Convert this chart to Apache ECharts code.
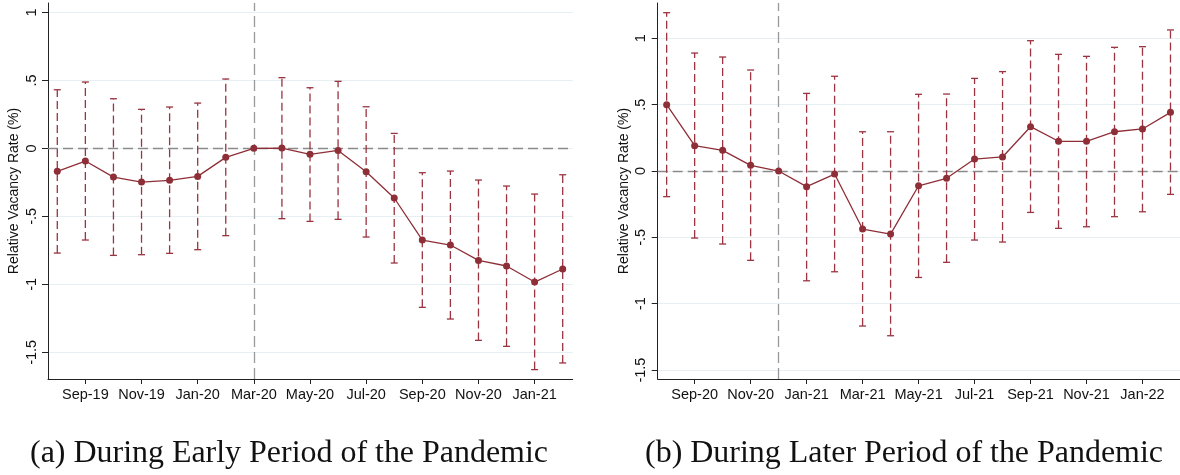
<!DOCTYPE html>
<html><head><meta charset="utf-8">
<script src="https://cdn.jsdelivr.net/npm/echarts@6/dist/echarts.min.js"></script>
<style>html,body{margin:0;padding:0;background:#fff}#c{width:1180px;height:475px}</style>
</head><body><div id="c"></div>
<script>
// Panel (a): During Early Period of the Pandemic
const monthsA = ["Aug-19","Sep-19","Oct-19","Nov-19","Dec-19","Jan-20","Feb-20","Mar-20","Apr-20","May-20","Jun-20","Jul-20","Aug-20","Sep-20","Oct-20","Nov-20","Dec-20","Jan-21","Feb-21"];
const estA  = [-0.169,-0.093,-0.211,-0.248,-0.235,-0.206,-0.066,0.000,0.002,-0.044,-0.015,-0.172,-0.365,-0.674,-0.711,-0.824,-0.865,-0.983,-0.887];
const lowA  = [-0.770,-0.674,-0.787,-0.782,-0.772,-0.745,-0.642,null,-0.517,-0.537,-0.522,-0.652,-0.843,-1.169,-1.255,-1.412,-1.456,-1.627,-1.578];
const highA = [0.431,0.488,0.365,0.287,0.304,0.333,0.510,null,0.520,0.446,0.493,0.306,0.110,-0.179,-0.167,-0.233,-0.277,-0.336,-0.194];
const eventA = "Mar-20";

// Panel (b): During Later Period of the Pandemic
const monthsB = ["Aug-20","Sep-20","Oct-20","Nov-20","Dec-20","Jan-21","Feb-21","Mar-21","Apr-21","May-21","Jun-21","Jul-21","Aug-21","Sep-21","Oct-21","Nov-21","Dec-21","Jan-22","Feb-22"];
const estB  = [0.500,0.191,0.156,0.043,0.000,-0.118,-0.023,-0.437,-0.475,-0.111,-0.055,0.090,0.106,0.334,0.224,0.224,0.296,0.317,0.442];
const lowB  = [-0.193,-0.505,-0.550,-0.673,null,-0.827,-0.759,-1.168,-1.241,-0.802,-0.688,-0.520,-0.535,-0.312,-0.432,-0.420,-0.344,-0.307,-0.176];
const highB = [1.193,0.889,0.859,0.761,null,0.585,0.714,0.296,0.296,0.578,0.580,0.698,0.749,0.982,0.879,0.864,0.932,0.937,1.063];
const eventB = "Dec-20";

const xTickIdx = [1,3,5,7,9,11,13,15,17];
const yTicks = [-1.5,-1,-0.5,0,0.5,1];
const yTitle = "Relative Vacancy Rate (%)";
const captionA = "(a) During Early Period of the Pandemic";
const captionB = "(b) During Later Period of the Pandemic";

const LINE = '#8e2f38', BAR = '#9a3440', GRID = '#e6eff1', REF = '#8a8a8a', AX = '#222';
const sans = '"Liberation Sans", Arial, Helvetica, sans-serif';
const serif = '"Liberation Serif", "DejaVu Serif", serif';

function yLab(v){
  if (Math.abs(v) < 1e-9) return '0';
  const s = String(Math.abs(v)).replace(/^0/, '');
  return (v < 0 ? '-' : '') + s;
}

function xAxisFor(gi, months, min, max){
  return {
    type:'value', gridIndex: gi, min: min, max: max,
    axisLine:{show:true, onZero:false, lineStyle:{color:AX, width:1}},
    axisTick:{show:true, length:5, customValues: xTickIdx, lineStyle:{color:AX}},
    axisLabel:{show:true, customValues: xTickIdx, margin:8, fontFamily:sans, fontSize:14.5, color:'#111',
      formatter: v => months[Math.round(v)]},
    splitLine:{show:false}
  };
}
function yAxisFor(gi, min, max){
  return {
    type:'value', gridIndex: gi, min: min, max: max,
    name: yTitle, nameLocation:'middle', nameRotate:90, nameGap:27,
    nameTextStyle:{fontFamily:sans, fontSize:14, color:'#111'},
    axisLine:{show:true, onZero:false, lineStyle:{color:AX, width:1}},
    axisTick:{show:true, length:6, customValues: yTicks, lineStyle:{color:AX}},
    axisLabel:{show:true, customValues: yTicks, rotate:90, margin:9, fontFamily:sans, fontSize:14.5, color:'#111',
      formatter: yLab},
    splitLine:{show:true, lineStyle:{color:GRID, width:1.2}}
  };
}

function errSeries(gi, low, high){
  const data = low.map((l,i)=>[i, l, high[i]]).filter(d => d[1] !== null && d[2] !== null);
  return {
    type:'custom', xAxisIndex: gi, yAxisIndex: gi, z: 2, silent:true,
    data: data,
    encode:{x:0, y:[1,2]},
    renderItem: function(params, api){
      const x = api.value(0);
      const p1 = api.coord([x, api.value(1)]);
      const p2 = api.coord([x, api.value(2)]);
      const cw = 3.5;
      const st = {stroke: BAR, lineWidth: 1.3};
      return {type:'group', children:[
        {type:'line', shape:{x1:p1[0], y1:p1[1], x2:p2[0], y2:p2[1]}, style:Object.assign({lineDash:[8,4]}, st)},
        {type:'line', shape:{x1:p1[0]-cw, y1:p1[1], x2:p1[0]+cw, y2:p1[1]}, style:st},
        {type:'line', shape:{x1:p2[0]-cw, y1:p2[1], x2:p2[0]+cw, y2:p2[1]}, style:st}
      ]};
    }
  };
}
function lineSeries(gi, est, months, eventMonth){
  return {
    type:'line', xAxisIndex: gi, yAxisIndex: gi, z: 3,
    data: est.map((v,i)=>[i,v]),
    symbol:'circle', symbolSize:7, showSymbol:true,
    itemStyle:{color:LINE}, lineStyle:{color:LINE, width:1.3},
    emphasis:{disabled:true}, animation:false,
    markLine:{
      silent:true, symbol:'none', label:{show:false}, z:1,
      data:[
        {yAxis:0, lineStyle:{color:REF, type:[10,5], width:1.3}},
        {xAxis: months.indexOf(eventMonth), lineStyle:{color:'#999', type:[11,5], width:1.3}}
      ]
    }
  };
}

function fitFont(text, target){
  const c = document.createElement('canvas').getContext('2d');
  c.font = '100px ' + serif;
  const w = c.measureText(text).width;
  return Math.min(32, Math.max(18, 100 * target / w));
}
const capSize = Math.min(fitFont(captionA, 518), fitFont(captionB, 528));

const chart = echarts.init(document.getElementById('c'), null, {renderer:'canvas'});
chart.setOption({
  animation:false,
  backgroundColor:'#fff',
  grid:[
    {left:48, top:3, width:524.7, height:376, containLabel:false},
    {left:657.7, top:3, width:524, height:376, containLabel:false}
  ],
  xAxis:[ xAxisFor(0, monthsA, -0.331, 18.356), xAxisFor(1, monthsB, -0.32, 18.34) ],
  yAxis:[ yAxisFor(0, -1.696, 1.069), yAxisFor(1, -1.567, 1.266) ],
  series:[
    errSeries(0, lowA, highA), lineSeries(0, estA, monthsA, eventA),
    errSeries(1, lowB, highB), lineSeries(1, estB, monthsB, eventB)
  ],
  graphic:[
    {type:'text', left:289 - 0, top:438, style:{text:captionA, font: capSize + 'px ' + serif, fill:'#111', textAlign:'center'}, x:289, y:438, left:null, top:null},
    {type:'text', x:904, y:438, style:{text:captionB, font: capSize + 'px ' + serif, fill:'#111', textAlign:'center'}}
  ]
});
</script></body></html>
